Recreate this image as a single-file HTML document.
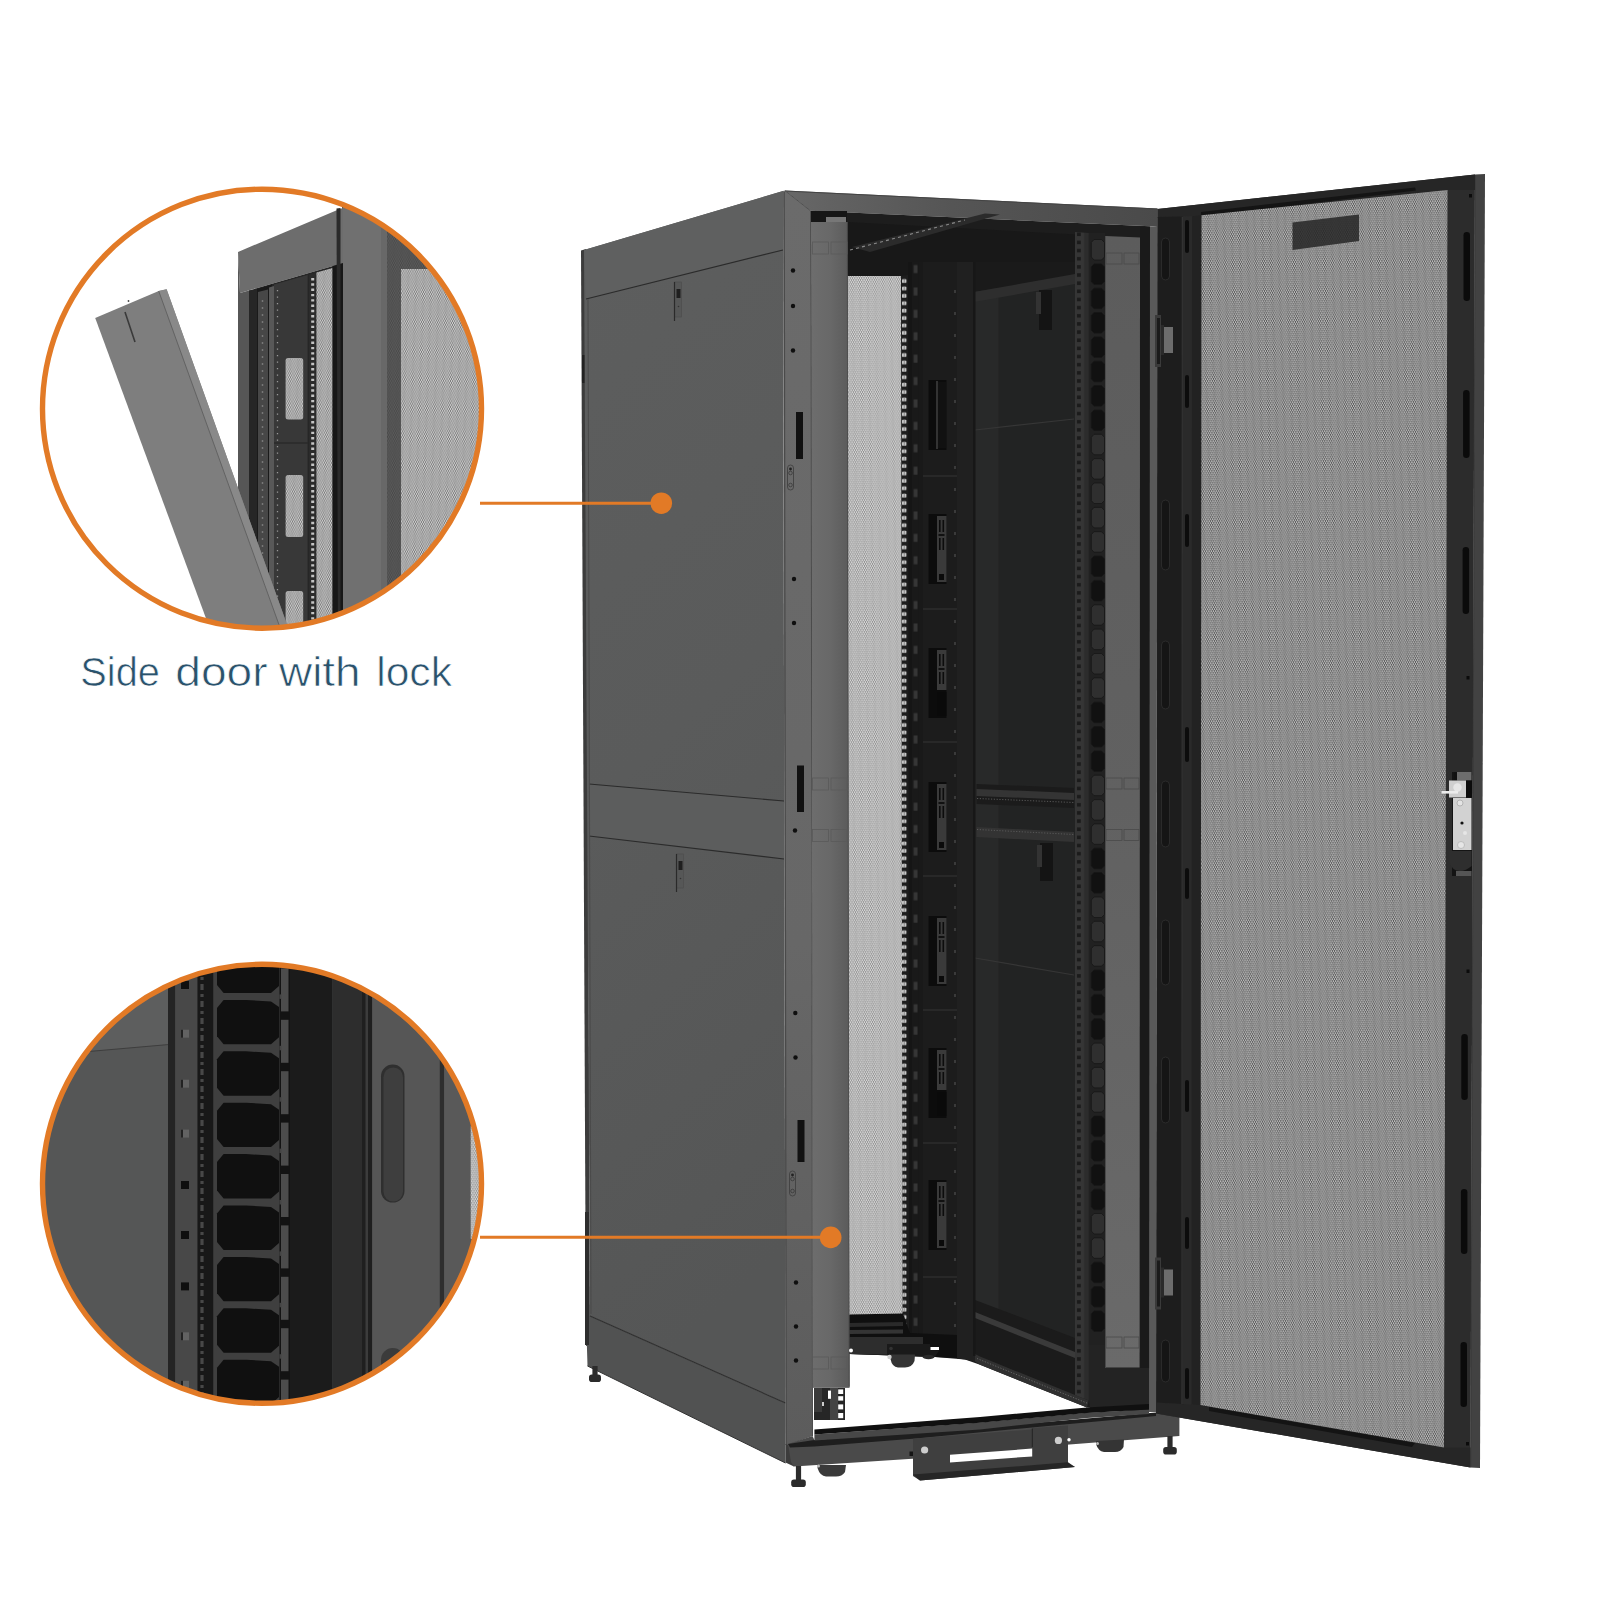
<!DOCTYPE html>
<html><head><meta charset="utf-8"><title>Rack</title>
<style>
html,body{margin:0;padding:0;background:#fff;}
body{width:1600px;height:1600px;overflow:hidden;font-family:"Liberation Sans",sans-serif;}
svg{display:block;}
</style></head><body>
<svg width="1600" height="1600" viewBox="0 0 1600 1600">
<rect width="1600" height="1600" fill="#fff"/>
<defs>
<pattern id="mDoor" width="23.00" height="20.00" patternUnits="userSpaceOnUse" patternTransform="rotate(-2)"><rect width="23.00" height="20.00" fill="#424242"/><g fill="#e8e8e8"><circle cx="0.00" cy="1.00" r="0.87"/><circle cx="2.30" cy="1.00" r="0.87"/><circle cx="4.60" cy="1.00" r="0.87"/><circle cx="6.90" cy="1.00" r="0.87"/><circle cx="9.20" cy="1.00" r="0.87"/><circle cx="11.50" cy="1.00" r="0.87"/><circle cx="13.80" cy="1.00" r="0.87"/><circle cx="16.10" cy="1.00" r="0.87"/><circle cx="18.40" cy="1.00" r="0.87"/><circle cx="20.70" cy="1.00" r="0.87"/><circle cx="23.00" cy="1.00" r="0.87"/><circle cx="1.15" cy="3.00" r="0.87"/><circle cx="3.45" cy="3.00" r="0.87"/><circle cx="5.75" cy="3.00" r="0.87"/><circle cx="8.05" cy="3.00" r="0.87"/><circle cx="10.35" cy="3.00" r="0.87"/><circle cx="12.65" cy="3.00" r="0.87"/><circle cx="14.95" cy="3.00" r="0.87"/><circle cx="17.25" cy="3.00" r="0.87"/><circle cx="19.55" cy="3.00" r="0.87"/><circle cx="21.85" cy="3.00" r="0.87"/><circle cx="0.00" cy="5.00" r="0.87"/><circle cx="2.30" cy="5.00" r="0.87"/><circle cx="4.60" cy="5.00" r="0.87"/><circle cx="6.90" cy="5.00" r="0.87"/><circle cx="9.20" cy="5.00" r="0.87"/><circle cx="11.50" cy="5.00" r="0.87"/><circle cx="13.80" cy="5.00" r="0.87"/><circle cx="16.10" cy="5.00" r="0.87"/><circle cx="18.40" cy="5.00" r="0.87"/><circle cx="20.70" cy="5.00" r="0.87"/><circle cx="23.00" cy="5.00" r="0.87"/><circle cx="1.15" cy="7.00" r="0.87"/><circle cx="3.45" cy="7.00" r="0.87"/><circle cx="5.75" cy="7.00" r="0.87"/><circle cx="8.05" cy="7.00" r="0.87"/><circle cx="10.35" cy="7.00" r="0.87"/><circle cx="12.65" cy="7.00" r="0.87"/><circle cx="14.95" cy="7.00" r="0.87"/><circle cx="17.25" cy="7.00" r="0.87"/><circle cx="19.55" cy="7.00" r="0.87"/><circle cx="21.85" cy="7.00" r="0.87"/><circle cx="0.00" cy="9.00" r="0.87"/><circle cx="2.30" cy="9.00" r="0.87"/><circle cx="4.60" cy="9.00" r="0.87"/><circle cx="6.90" cy="9.00" r="0.87"/><circle cx="9.20" cy="9.00" r="0.87"/><circle cx="11.50" cy="9.00" r="0.87"/><circle cx="13.80" cy="9.00" r="0.87"/><circle cx="16.10" cy="9.00" r="0.87"/><circle cx="18.40" cy="9.00" r="0.87"/><circle cx="20.70" cy="9.00" r="0.87"/><circle cx="23.00" cy="9.00" r="0.87"/><circle cx="1.15" cy="11.00" r="0.87"/><circle cx="3.45" cy="11.00" r="0.87"/><circle cx="5.75" cy="11.00" r="0.87"/><circle cx="8.05" cy="11.00" r="0.87"/><circle cx="10.35" cy="11.00" r="0.87"/><circle cx="12.65" cy="11.00" r="0.87"/><circle cx="14.95" cy="11.00" r="0.87"/><circle cx="17.25" cy="11.00" r="0.87"/><circle cx="19.55" cy="11.00" r="0.87"/><circle cx="21.85" cy="11.00" r="0.87"/><circle cx="0.00" cy="13.00" r="0.87"/><circle cx="2.30" cy="13.00" r="0.87"/><circle cx="4.60" cy="13.00" r="0.87"/><circle cx="6.90" cy="13.00" r="0.87"/><circle cx="9.20" cy="13.00" r="0.87"/><circle cx="11.50" cy="13.00" r="0.87"/><circle cx="13.80" cy="13.00" r="0.87"/><circle cx="16.10" cy="13.00" r="0.87"/><circle cx="18.40" cy="13.00" r="0.87"/><circle cx="20.70" cy="13.00" r="0.87"/><circle cx="23.00" cy="13.00" r="0.87"/><circle cx="1.15" cy="15.00" r="0.87"/><circle cx="3.45" cy="15.00" r="0.87"/><circle cx="5.75" cy="15.00" r="0.87"/><circle cx="8.05" cy="15.00" r="0.87"/><circle cx="10.35" cy="15.00" r="0.87"/><circle cx="12.65" cy="15.00" r="0.87"/><circle cx="14.95" cy="15.00" r="0.87"/><circle cx="17.25" cy="15.00" r="0.87"/><circle cx="19.55" cy="15.00" r="0.87"/><circle cx="21.85" cy="15.00" r="0.87"/><circle cx="0.00" cy="17.00" r="0.87"/><circle cx="2.30" cy="17.00" r="0.87"/><circle cx="4.60" cy="17.00" r="0.87"/><circle cx="6.90" cy="17.00" r="0.87"/><circle cx="9.20" cy="17.00" r="0.87"/><circle cx="11.50" cy="17.00" r="0.87"/><circle cx="13.80" cy="17.00" r="0.87"/><circle cx="16.10" cy="17.00" r="0.87"/><circle cx="18.40" cy="17.00" r="0.87"/><circle cx="20.70" cy="17.00" r="0.87"/><circle cx="23.00" cy="17.00" r="0.87"/><circle cx="1.15" cy="19.00" r="0.87"/><circle cx="3.45" cy="19.00" r="0.87"/><circle cx="5.75" cy="19.00" r="0.87"/><circle cx="8.05" cy="19.00" r="0.87"/><circle cx="10.35" cy="19.00" r="0.87"/><circle cx="12.65" cy="19.00" r="0.87"/><circle cx="14.95" cy="19.00" r="0.87"/><circle cx="17.25" cy="19.00" r="0.87"/><circle cx="19.55" cy="19.00" r="0.87"/><circle cx="21.85" cy="19.00" r="0.87"/></g></pattern>
<pattern id="mLeft" width="23.00" height="20.00" patternUnits="userSpaceOnUse" patternTransform="rotate(-1)"><rect width="23.00" height="20.00" fill="#848484"/><g fill="#f4f4f4"><circle cx="0.00" cy="1.00" r="0.86"/><circle cx="2.30" cy="1.00" r="0.86"/><circle cx="4.60" cy="1.00" r="0.86"/><circle cx="6.90" cy="1.00" r="0.86"/><circle cx="9.20" cy="1.00" r="0.86"/><circle cx="11.50" cy="1.00" r="0.86"/><circle cx="13.80" cy="1.00" r="0.86"/><circle cx="16.10" cy="1.00" r="0.86"/><circle cx="18.40" cy="1.00" r="0.86"/><circle cx="20.70" cy="1.00" r="0.86"/><circle cx="23.00" cy="1.00" r="0.86"/><circle cx="1.15" cy="3.00" r="0.86"/><circle cx="3.45" cy="3.00" r="0.86"/><circle cx="5.75" cy="3.00" r="0.86"/><circle cx="8.05" cy="3.00" r="0.86"/><circle cx="10.35" cy="3.00" r="0.86"/><circle cx="12.65" cy="3.00" r="0.86"/><circle cx="14.95" cy="3.00" r="0.86"/><circle cx="17.25" cy="3.00" r="0.86"/><circle cx="19.55" cy="3.00" r="0.86"/><circle cx="21.85" cy="3.00" r="0.86"/><circle cx="0.00" cy="5.00" r="0.86"/><circle cx="2.30" cy="5.00" r="0.86"/><circle cx="4.60" cy="5.00" r="0.86"/><circle cx="6.90" cy="5.00" r="0.86"/><circle cx="9.20" cy="5.00" r="0.86"/><circle cx="11.50" cy="5.00" r="0.86"/><circle cx="13.80" cy="5.00" r="0.86"/><circle cx="16.10" cy="5.00" r="0.86"/><circle cx="18.40" cy="5.00" r="0.86"/><circle cx="20.70" cy="5.00" r="0.86"/><circle cx="23.00" cy="5.00" r="0.86"/><circle cx="1.15" cy="7.00" r="0.86"/><circle cx="3.45" cy="7.00" r="0.86"/><circle cx="5.75" cy="7.00" r="0.86"/><circle cx="8.05" cy="7.00" r="0.86"/><circle cx="10.35" cy="7.00" r="0.86"/><circle cx="12.65" cy="7.00" r="0.86"/><circle cx="14.95" cy="7.00" r="0.86"/><circle cx="17.25" cy="7.00" r="0.86"/><circle cx="19.55" cy="7.00" r="0.86"/><circle cx="21.85" cy="7.00" r="0.86"/><circle cx="0.00" cy="9.00" r="0.86"/><circle cx="2.30" cy="9.00" r="0.86"/><circle cx="4.60" cy="9.00" r="0.86"/><circle cx="6.90" cy="9.00" r="0.86"/><circle cx="9.20" cy="9.00" r="0.86"/><circle cx="11.50" cy="9.00" r="0.86"/><circle cx="13.80" cy="9.00" r="0.86"/><circle cx="16.10" cy="9.00" r="0.86"/><circle cx="18.40" cy="9.00" r="0.86"/><circle cx="20.70" cy="9.00" r="0.86"/><circle cx="23.00" cy="9.00" r="0.86"/><circle cx="1.15" cy="11.00" r="0.86"/><circle cx="3.45" cy="11.00" r="0.86"/><circle cx="5.75" cy="11.00" r="0.86"/><circle cx="8.05" cy="11.00" r="0.86"/><circle cx="10.35" cy="11.00" r="0.86"/><circle cx="12.65" cy="11.00" r="0.86"/><circle cx="14.95" cy="11.00" r="0.86"/><circle cx="17.25" cy="11.00" r="0.86"/><circle cx="19.55" cy="11.00" r="0.86"/><circle cx="21.85" cy="11.00" r="0.86"/><circle cx="0.00" cy="13.00" r="0.86"/><circle cx="2.30" cy="13.00" r="0.86"/><circle cx="4.60" cy="13.00" r="0.86"/><circle cx="6.90" cy="13.00" r="0.86"/><circle cx="9.20" cy="13.00" r="0.86"/><circle cx="11.50" cy="13.00" r="0.86"/><circle cx="13.80" cy="13.00" r="0.86"/><circle cx="16.10" cy="13.00" r="0.86"/><circle cx="18.40" cy="13.00" r="0.86"/><circle cx="20.70" cy="13.00" r="0.86"/><circle cx="23.00" cy="13.00" r="0.86"/><circle cx="1.15" cy="15.00" r="0.86"/><circle cx="3.45" cy="15.00" r="0.86"/><circle cx="5.75" cy="15.00" r="0.86"/><circle cx="8.05" cy="15.00" r="0.86"/><circle cx="10.35" cy="15.00" r="0.86"/><circle cx="12.65" cy="15.00" r="0.86"/><circle cx="14.95" cy="15.00" r="0.86"/><circle cx="17.25" cy="15.00" r="0.86"/><circle cx="19.55" cy="15.00" r="0.86"/><circle cx="21.85" cy="15.00" r="0.86"/><circle cx="0.00" cy="17.00" r="0.86"/><circle cx="2.30" cy="17.00" r="0.86"/><circle cx="4.60" cy="17.00" r="0.86"/><circle cx="6.90" cy="17.00" r="0.86"/><circle cx="9.20" cy="17.00" r="0.86"/><circle cx="11.50" cy="17.00" r="0.86"/><circle cx="13.80" cy="17.00" r="0.86"/><circle cx="16.10" cy="17.00" r="0.86"/><circle cx="18.40" cy="17.00" r="0.86"/><circle cx="20.70" cy="17.00" r="0.86"/><circle cx="23.00" cy="17.00" r="0.86"/><circle cx="1.15" cy="19.00" r="0.86"/><circle cx="3.45" cy="19.00" r="0.86"/><circle cx="5.75" cy="19.00" r="0.86"/><circle cx="8.05" cy="19.00" r="0.86"/><circle cx="10.35" cy="19.00" r="0.86"/><circle cx="12.65" cy="19.00" r="0.86"/><circle cx="14.95" cy="19.00" r="0.86"/><circle cx="17.25" cy="19.00" r="0.86"/><circle cx="19.55" cy="19.00" r="0.86"/><circle cx="21.85" cy="19.00" r="0.86"/></g></pattern>
<pattern id="mC1" width="23.00" height="20.00" patternUnits="userSpaceOnUse" patternTransform="rotate(2)"><rect width="23.00" height="20.00" fill="#666666"/><g fill="#d8d8d8"><circle cx="0.00" cy="1.00" r="0.88"/><circle cx="2.30" cy="1.00" r="0.88"/><circle cx="4.60" cy="1.00" r="0.88"/><circle cx="6.90" cy="1.00" r="0.88"/><circle cx="9.20" cy="1.00" r="0.88"/><circle cx="11.50" cy="1.00" r="0.88"/><circle cx="13.80" cy="1.00" r="0.88"/><circle cx="16.10" cy="1.00" r="0.88"/><circle cx="18.40" cy="1.00" r="0.88"/><circle cx="20.70" cy="1.00" r="0.88"/><circle cx="23.00" cy="1.00" r="0.88"/><circle cx="1.15" cy="3.00" r="0.88"/><circle cx="3.45" cy="3.00" r="0.88"/><circle cx="5.75" cy="3.00" r="0.88"/><circle cx="8.05" cy="3.00" r="0.88"/><circle cx="10.35" cy="3.00" r="0.88"/><circle cx="12.65" cy="3.00" r="0.88"/><circle cx="14.95" cy="3.00" r="0.88"/><circle cx="17.25" cy="3.00" r="0.88"/><circle cx="19.55" cy="3.00" r="0.88"/><circle cx="21.85" cy="3.00" r="0.88"/><circle cx="0.00" cy="5.00" r="0.88"/><circle cx="2.30" cy="5.00" r="0.88"/><circle cx="4.60" cy="5.00" r="0.88"/><circle cx="6.90" cy="5.00" r="0.88"/><circle cx="9.20" cy="5.00" r="0.88"/><circle cx="11.50" cy="5.00" r="0.88"/><circle cx="13.80" cy="5.00" r="0.88"/><circle cx="16.10" cy="5.00" r="0.88"/><circle cx="18.40" cy="5.00" r="0.88"/><circle cx="20.70" cy="5.00" r="0.88"/><circle cx="23.00" cy="5.00" r="0.88"/><circle cx="1.15" cy="7.00" r="0.88"/><circle cx="3.45" cy="7.00" r="0.88"/><circle cx="5.75" cy="7.00" r="0.88"/><circle cx="8.05" cy="7.00" r="0.88"/><circle cx="10.35" cy="7.00" r="0.88"/><circle cx="12.65" cy="7.00" r="0.88"/><circle cx="14.95" cy="7.00" r="0.88"/><circle cx="17.25" cy="7.00" r="0.88"/><circle cx="19.55" cy="7.00" r="0.88"/><circle cx="21.85" cy="7.00" r="0.88"/><circle cx="0.00" cy="9.00" r="0.88"/><circle cx="2.30" cy="9.00" r="0.88"/><circle cx="4.60" cy="9.00" r="0.88"/><circle cx="6.90" cy="9.00" r="0.88"/><circle cx="9.20" cy="9.00" r="0.88"/><circle cx="11.50" cy="9.00" r="0.88"/><circle cx="13.80" cy="9.00" r="0.88"/><circle cx="16.10" cy="9.00" r="0.88"/><circle cx="18.40" cy="9.00" r="0.88"/><circle cx="20.70" cy="9.00" r="0.88"/><circle cx="23.00" cy="9.00" r="0.88"/><circle cx="1.15" cy="11.00" r="0.88"/><circle cx="3.45" cy="11.00" r="0.88"/><circle cx="5.75" cy="11.00" r="0.88"/><circle cx="8.05" cy="11.00" r="0.88"/><circle cx="10.35" cy="11.00" r="0.88"/><circle cx="12.65" cy="11.00" r="0.88"/><circle cx="14.95" cy="11.00" r="0.88"/><circle cx="17.25" cy="11.00" r="0.88"/><circle cx="19.55" cy="11.00" r="0.88"/><circle cx="21.85" cy="11.00" r="0.88"/><circle cx="0.00" cy="13.00" r="0.88"/><circle cx="2.30" cy="13.00" r="0.88"/><circle cx="4.60" cy="13.00" r="0.88"/><circle cx="6.90" cy="13.00" r="0.88"/><circle cx="9.20" cy="13.00" r="0.88"/><circle cx="11.50" cy="13.00" r="0.88"/><circle cx="13.80" cy="13.00" r="0.88"/><circle cx="16.10" cy="13.00" r="0.88"/><circle cx="18.40" cy="13.00" r="0.88"/><circle cx="20.70" cy="13.00" r="0.88"/><circle cx="23.00" cy="13.00" r="0.88"/><circle cx="1.15" cy="15.00" r="0.88"/><circle cx="3.45" cy="15.00" r="0.88"/><circle cx="5.75" cy="15.00" r="0.88"/><circle cx="8.05" cy="15.00" r="0.88"/><circle cx="10.35" cy="15.00" r="0.88"/><circle cx="12.65" cy="15.00" r="0.88"/><circle cx="14.95" cy="15.00" r="0.88"/><circle cx="17.25" cy="15.00" r="0.88"/><circle cx="19.55" cy="15.00" r="0.88"/><circle cx="21.85" cy="15.00" r="0.88"/><circle cx="0.00" cy="17.00" r="0.88"/><circle cx="2.30" cy="17.00" r="0.88"/><circle cx="4.60" cy="17.00" r="0.88"/><circle cx="6.90" cy="17.00" r="0.88"/><circle cx="9.20" cy="17.00" r="0.88"/><circle cx="11.50" cy="17.00" r="0.88"/><circle cx="13.80" cy="17.00" r="0.88"/><circle cx="16.10" cy="17.00" r="0.88"/><circle cx="18.40" cy="17.00" r="0.88"/><circle cx="20.70" cy="17.00" r="0.88"/><circle cx="23.00" cy="17.00" r="0.88"/><circle cx="1.15" cy="19.00" r="0.88"/><circle cx="3.45" cy="19.00" r="0.88"/><circle cx="5.75" cy="19.00" r="0.88"/><circle cx="8.05" cy="19.00" r="0.88"/><circle cx="10.35" cy="19.00" r="0.88"/><circle cx="12.65" cy="19.00" r="0.88"/><circle cx="14.95" cy="19.00" r="0.88"/><circle cx="17.25" cy="19.00" r="0.88"/><circle cx="19.55" cy="19.00" r="0.88"/><circle cx="21.85" cy="19.00" r="0.88"/></g></pattern>
<pattern id="mC1d" width="23.00" height="20.00" patternUnits="userSpaceOnUse" patternTransform="rotate(2)"><rect width="23.00" height="20.00" fill="#454545"/><g fill="#5c5c5c"><circle cx="0.00" cy="1.00" r="0.9"/><circle cx="2.30" cy="1.00" r="0.9"/><circle cx="4.60" cy="1.00" r="0.9"/><circle cx="6.90" cy="1.00" r="0.9"/><circle cx="9.20" cy="1.00" r="0.9"/><circle cx="11.50" cy="1.00" r="0.9"/><circle cx="13.80" cy="1.00" r="0.9"/><circle cx="16.10" cy="1.00" r="0.9"/><circle cx="18.40" cy="1.00" r="0.9"/><circle cx="20.70" cy="1.00" r="0.9"/><circle cx="23.00" cy="1.00" r="0.9"/><circle cx="1.15" cy="3.00" r="0.9"/><circle cx="3.45" cy="3.00" r="0.9"/><circle cx="5.75" cy="3.00" r="0.9"/><circle cx="8.05" cy="3.00" r="0.9"/><circle cx="10.35" cy="3.00" r="0.9"/><circle cx="12.65" cy="3.00" r="0.9"/><circle cx="14.95" cy="3.00" r="0.9"/><circle cx="17.25" cy="3.00" r="0.9"/><circle cx="19.55" cy="3.00" r="0.9"/><circle cx="21.85" cy="3.00" r="0.9"/><circle cx="0.00" cy="5.00" r="0.9"/><circle cx="2.30" cy="5.00" r="0.9"/><circle cx="4.60" cy="5.00" r="0.9"/><circle cx="6.90" cy="5.00" r="0.9"/><circle cx="9.20" cy="5.00" r="0.9"/><circle cx="11.50" cy="5.00" r="0.9"/><circle cx="13.80" cy="5.00" r="0.9"/><circle cx="16.10" cy="5.00" r="0.9"/><circle cx="18.40" cy="5.00" r="0.9"/><circle cx="20.70" cy="5.00" r="0.9"/><circle cx="23.00" cy="5.00" r="0.9"/><circle cx="1.15" cy="7.00" r="0.9"/><circle cx="3.45" cy="7.00" r="0.9"/><circle cx="5.75" cy="7.00" r="0.9"/><circle cx="8.05" cy="7.00" r="0.9"/><circle cx="10.35" cy="7.00" r="0.9"/><circle cx="12.65" cy="7.00" r="0.9"/><circle cx="14.95" cy="7.00" r="0.9"/><circle cx="17.25" cy="7.00" r="0.9"/><circle cx="19.55" cy="7.00" r="0.9"/><circle cx="21.85" cy="7.00" r="0.9"/><circle cx="0.00" cy="9.00" r="0.9"/><circle cx="2.30" cy="9.00" r="0.9"/><circle cx="4.60" cy="9.00" r="0.9"/><circle cx="6.90" cy="9.00" r="0.9"/><circle cx="9.20" cy="9.00" r="0.9"/><circle cx="11.50" cy="9.00" r="0.9"/><circle cx="13.80" cy="9.00" r="0.9"/><circle cx="16.10" cy="9.00" r="0.9"/><circle cx="18.40" cy="9.00" r="0.9"/><circle cx="20.70" cy="9.00" r="0.9"/><circle cx="23.00" cy="9.00" r="0.9"/><circle cx="1.15" cy="11.00" r="0.9"/><circle cx="3.45" cy="11.00" r="0.9"/><circle cx="5.75" cy="11.00" r="0.9"/><circle cx="8.05" cy="11.00" r="0.9"/><circle cx="10.35" cy="11.00" r="0.9"/><circle cx="12.65" cy="11.00" r="0.9"/><circle cx="14.95" cy="11.00" r="0.9"/><circle cx="17.25" cy="11.00" r="0.9"/><circle cx="19.55" cy="11.00" r="0.9"/><circle cx="21.85" cy="11.00" r="0.9"/><circle cx="0.00" cy="13.00" r="0.9"/><circle cx="2.30" cy="13.00" r="0.9"/><circle cx="4.60" cy="13.00" r="0.9"/><circle cx="6.90" cy="13.00" r="0.9"/><circle cx="9.20" cy="13.00" r="0.9"/><circle cx="11.50" cy="13.00" r="0.9"/><circle cx="13.80" cy="13.00" r="0.9"/><circle cx="16.10" cy="13.00" r="0.9"/><circle cx="18.40" cy="13.00" r="0.9"/><circle cx="20.70" cy="13.00" r="0.9"/><circle cx="23.00" cy="13.00" r="0.9"/><circle cx="1.15" cy="15.00" r="0.9"/><circle cx="3.45" cy="15.00" r="0.9"/><circle cx="5.75" cy="15.00" r="0.9"/><circle cx="8.05" cy="15.00" r="0.9"/><circle cx="10.35" cy="15.00" r="0.9"/><circle cx="12.65" cy="15.00" r="0.9"/><circle cx="14.95" cy="15.00" r="0.9"/><circle cx="17.25" cy="15.00" r="0.9"/><circle cx="19.55" cy="15.00" r="0.9"/><circle cx="21.85" cy="15.00" r="0.9"/><circle cx="0.00" cy="17.00" r="0.9"/><circle cx="2.30" cy="17.00" r="0.9"/><circle cx="4.60" cy="17.00" r="0.9"/><circle cx="6.90" cy="17.00" r="0.9"/><circle cx="9.20" cy="17.00" r="0.9"/><circle cx="11.50" cy="17.00" r="0.9"/><circle cx="13.80" cy="17.00" r="0.9"/><circle cx="16.10" cy="17.00" r="0.9"/><circle cx="18.40" cy="17.00" r="0.9"/><circle cx="20.70" cy="17.00" r="0.9"/><circle cx="23.00" cy="17.00" r="0.9"/><circle cx="1.15" cy="19.00" r="0.9"/><circle cx="3.45" cy="19.00" r="0.9"/><circle cx="5.75" cy="19.00" r="0.9"/><circle cx="8.05" cy="19.00" r="0.9"/><circle cx="10.35" cy="19.00" r="0.9"/><circle cx="12.65" cy="19.00" r="0.9"/><circle cx="14.95" cy="19.00" r="0.9"/><circle cx="17.25" cy="19.00" r="0.9"/><circle cx="19.55" cy="19.00" r="0.9"/><circle cx="21.85" cy="19.00" r="0.9"/></g></pattern>
<pattern id="railL" width="7" height="7.4" patternUnits="userSpaceOnUse" x="901" y="278.5">
 <rect width="7" height="7.4" fill="#1d1d1d"/>
 <rect x="1" y="0.6" width="4.4" height="3.8" rx="0.8" fill="#c8c8c8"/>
 <rect x="2.8" y="0.6" width="0.8" height="3.8" fill="#7a7a7a"/>
</pattern>
<pattern id="railR" width="13.75" height="8.15" patternUnits="userSpaceOnUse" x="1075" y="231.5">
 <rect width="13.75" height="8.15" fill="#353535"/>
 <rect x="2" y="1" width="3.8" height="3.6" fill="#1b1b1b"/>
 <rect x="9" y="0" width="4.75" height="8.15" fill="#2c2c2c"/>
</pattern>
<pattern id="dash" width="6" height="22.4" patternUnits="userSpaceOnUse" x="912.5" y="287">
 <rect width="6" height="22.4" fill="#191919"/>
 <rect x="1.2" y="0.5" width="3.8" height="8" fill="#363636"/>
</pattern>
<pattern id="fingR" width="16.5" height="24.4" patternUnits="userSpaceOnUse" x="1088.6" y="246">
 <rect width="16.5" height="24.4" fill="#262626"/>
 <path d="M5,2 L12,2 L14.5,5 L14.5,19.5 L12,22.5 L5,22.5 L2.5,19.5 L2.5,5 Z" fill="#141414"/>
 <path d="M2.5,5 Q0.8,12 2.5,19.5" stroke="#4a4a4a" stroke-width="0.7" fill="none"/>
</pattern>
<linearGradient id="sideG" x1="0" y1="0" x2="0.15" y2="1">
 <stop offset="0" stop-color="#5d5e5e"/><stop offset="0.5" stop-color="#5a5b5b"/><stop offset="1" stop-color="#555656"/>
</linearGradient>
<linearGradient id="postG" x1="0" y1="0" x2="0" y2="1">
 <stop offset="0" stop-color="#6b6b6b"/><stop offset="0.6" stop-color="#676767"/><stop offset="1" stop-color="#5c5c5c"/>
</linearGradient>
<linearGradient id="barRG" x1="0" y1="0" x2="0" y2="1">
 <stop offset="0" stop-color="#5c5c5c"/><stop offset="0.5" stop-color="#616161"/><stop offset="1" stop-color="#6a6a6a"/>
</linearGradient>
<linearGradient id="beamG" gradientUnits="userSpaceOnUse" x1="785" y1="0" x2="1157" y2="0">
 <stop offset="0" stop-color="#686868"/><stop offset="0.12" stop-color="#626262"/><stop offset="0.45" stop-color="#555555"/><stop offset="1" stop-color="#4a4a4a"/>
</linearGradient>
<linearGradient id="barLG" gradientUnits="userSpaceOnUse" x1="812" y1="0" x2="849" y2="0">
 <stop offset="0" stop-color="#6d6d6d"/><stop offset="0.5" stop-color="#686868"/><stop offset="1" stop-color="#5b5b5b"/>
</linearGradient>
<clipPath id="c1"><circle cx="262" cy="408.7" r="219.5"/></clipPath>
<clipPath id="c2"><circle cx="262" cy="1183.8" r="219.5"/></clipPath>
</defs>
<polygon points="581.0,250.5 586.0,249.0 590.0,1345.0 586.0,1346.0" fill="#3c3c3c" />
<polygon points="584.0,250.0 783.0,191.0 785.5,1403.0 590.0,1316.0" fill="url(#sideG)" />
<polygon points="584.0,250.0 783.0,191.0 783.0,250.0 586.0,299.0" fill="#5f6060" />
<polygon points="589.0,784.0 784.0,801.0 784.0,859.0 589.0,836.0" fill="#5c5d5d" />
<polygon points="586.0,1318.0 590.0,1316.0 785.5,1403.0 785.5,1463.0 587.5,1366.0" fill="#515252" />
<line x1="586.0" y1="299.0" x2="783.0" y2="250.0" stroke="#2b2b2b" stroke-width="1.20" />
<line x1="589.0" y1="784.0" x2="784.0" y2="801.0" stroke="#2b2b2b" stroke-width="1.20" />
<line x1="589.0" y1="836.0" x2="784.0" y2="859.0" stroke="#2b2b2b" stroke-width="1.20" />
<line x1="590.0" y1="1316.0" x2="785.5" y2="1403.0" stroke="#2e2e2e" stroke-width="1.20" />
<line x1="587.5" y1="1366.0" x2="785.5" y2="1463.0" stroke="#333" stroke-width="1.00" />
<line x1="588.0" y1="299.0" x2="591.0" y2="1314.0" stroke="#4a4a4a" stroke-width="1.00" />
<rect x="674.5" y="282.0" width="7.0" height="35.0" fill="#565757" stroke="#4b4b4b" stroke-width="0.6"/>
<rect x="676.5" y="289.0" width="4.0" height="9.0" fill="#1f1f1f" />
<line x1="674.5" y1="282.0" x2="674.5" y2="321.0" stroke="#2a2a2a" stroke-width="1.20" />
<circle cx="678.5" cy="306.5" r="0.80" fill="#333" />
<rect x="676.5" y="854.0" width="7.0" height="34.0" fill="#565757" stroke="#4b4b4b" stroke-width="0.6"/>
<rect x="678.5" y="861.0" width="4.0" height="9.0" fill="#1f1f1f" />
<line x1="676.5" y1="854.0" x2="676.5" y2="892.0" stroke="#2a2a2a" stroke-width="1.20" />
<circle cx="680.5" cy="878.5" r="0.80" fill="#333" />
<rect x="582.0" y="355.0" width="2.5" height="28.0" fill="#222" />
<rect x="585.0" y="1212.0" width="4.0" height="133.0" fill="#2d2d2d" />
<polygon points="783.0,191.0 785.0,190.5 811.0,211.0 812.5,1436.0 788.0,1445.0 785.5,1445.0" fill="url(#postG)" />
<line x1="784.2" y1="192.0" x2="786.3" y2="1445.0" stroke="#4a4a4a" stroke-width="1.20" />
<line x1="811.0" y1="211.0" x2="812.5" y2="1436.0" stroke="#4c4c4c" stroke-width="1.00" />
<circle cx="793.0" cy="270.5" r="2.20" fill="#0f0f0f" />
<circle cx="793.0" cy="306.0" r="2.20" fill="#0f0f0f" />
<circle cx="793.0" cy="350.5" r="2.20" fill="#0f0f0f" />
<circle cx="794.0" cy="579.0" r="2.20" fill="#0f0f0f" />
<circle cx="794.0" cy="623.0" r="2.20" fill="#0f0f0f" />
<circle cx="795.0" cy="830.5" r="2.20" fill="#0f0f0f" />
<circle cx="795.3" cy="1013.0" r="2.20" fill="#0f0f0f" />
<circle cx="795.5" cy="1057.5" r="2.20" fill="#0f0f0f" />
<circle cx="796.0" cy="1282.5" r="2.20" fill="#0f0f0f" />
<circle cx="796.0" cy="1326.5" r="2.20" fill="#0f0f0f" />
<circle cx="796.0" cy="1360.5" r="2.20" fill="#0f0f0f" />
<rect x="796.0" y="412.0" width="7.0" height="47.0" fill="#111" />
<rect x="797.0" y="765.5" width="7.0" height="46.5" fill="#111" />
<rect x="797.5" y="1120.0" width="7.0" height="42.0" fill="#111" />
<rect x="787.5" y="465.0" width="6" height="25" rx="3" fill="none" stroke="#3c3c3c" stroke-width="0.8"/>
<circle cx="790.5" cy="469.0" r="1.40" fill="#222" />
<circle cx="790.5" cy="473.0" r="1.80" fill="none" stroke="#333" stroke-width="0.7"/>
<circle cx="790.5" cy="485.0" r="1.80" fill="none" stroke="#333" stroke-width="0.7"/>
<rect x="789.5" y="1171.0" width="6" height="25" rx="3" fill="none" stroke="#3c3c3c" stroke-width="0.8"/>
<circle cx="792.5" cy="1175.0" r="1.40" fill="#222" />
<circle cx="792.5" cy="1179.0" r="1.80" fill="none" stroke="#333" stroke-width="0.7"/>
<circle cx="792.5" cy="1191.0" r="1.80" fill="none" stroke="#333" stroke-width="0.7"/>
<polygon points="785.0,190.5 1157.5,208.6 1157.5,227.0 1150.0,226.3 810.5,210.8" fill="url(#beamG)" />
<line x1="785.0" y1="191.0" x2="1157.5" y2="209.0" stroke="#444" stroke-width="1.00" />
<line x1="785.5" y1="191.0" x2="810.5" y2="210.8" stroke="#505050" stroke-width="1.00" />
<polygon points="810.8,210.8 1150.0,226.3 1150.0,1412.0 1087.0,1407.4 980.0,1364.8 965.0,1359.5 935.0,1357.0 849.5,1354.0 849.5,1387.5 813.0,1387.5" fill="#1d1d1d" />
<polygon points="847.0,222.0 1105.0,236.0 1105.0,262.0 974.0,262.0 902.0,276.0 847.0,276.0" fill="#181818" />
<polygon points="852.0,247.0 985.0,213.5 1000.0,214.5 870.0,252.0" fill="#2b2b2b" />
<line x1="850.0" y1="250.0" x2="965.0" y2="220.0" stroke="#8a8a8a" stroke-width="1.10" stroke-dasharray="3 3.2"/>
<polygon points="974.0,262.0 1075.0,262.0 1075.0,1395.0 974.0,1352.0" fill="#222323" />
<polygon points="974.0,275.0 998.5,275.0 998.5,1362.0 974.0,1352.0" fill="#282929" />
<polygon points="974.0,262.0 1075.0,262.0 1075.0,276.0 974.0,292.0" fill="#1a1a1a" />
<polygon points="974.0,292.0 1075.0,274.0 1075.0,284.0 974.0,302.0" fill="#2e2e2e" />
<line x1="975.0" y1="430.0" x2="1074.0" y2="419.0" stroke="#363636" stroke-width="1.20" />
<line x1="975.0" y1="958.0" x2="1074.0" y2="975.0" stroke="#363636" stroke-width="1.20" />
<rect x="1039.0" y="290.0" width="13.0" height="40.0" fill="#141414" />
<rect x="1036.0" y="292.0" width="5.0" height="22.0" fill="#333" />
<rect x="1040.0" y="843.0" width="13.0" height="38.0" fill="#141414" />
<rect x="1037.0" y="845.0" width="5.0" height="22.0" fill="#333" />
<polygon points="976.5,784.0 1074.0,788.0 1074.0,808.0 976.5,804.0" fill="#1b1b1b" />
<polygon points="976.5,789.0 1074.0,793.0 1074.0,800.0 976.5,796.0" fill="#343434" />
<line x1="977.0" y1="798.5" x2="1074.0" y2="802.5" stroke="#5c5c5c" stroke-width="0.90" stroke-dasharray="1.2 1.6"/>
<polygon points="976.5,827.0 1074.0,832.0 1074.0,842.0 976.5,837.0" fill="#333" />
<line x1="977.0" y1="829.5" x2="1074.0" y2="834.5" stroke="#5c5c5c" stroke-width="0.90" stroke-dasharray="1.2 1.6"/>
<polygon points="975.0,1300.0 1075.0,1338.0 1075.0,1395.0 975.0,1355.0" fill="#1b1b1b" />
<polygon points="975.0,1312.0 1075.0,1352.0 1075.0,1358.0 975.0,1318.0" fill="#3a3a3a" />
<polygon points="975.0,1354.0 980.0,1356.5 1088.6,1400.5 1087.0,1407.4 980.0,1364.8 975.0,1361.5" fill="#303030" />
<line x1="977.0" y1="1358.5" x2="1088.0" y2="1403.5" stroke="#6a6a6a" stroke-width="0.90" stroke-dasharray="1.2 1.6"/>
<rect x="923.0" y="262.0" width="50.5" height="1090.0" fill="#1c1c1c" />
<line x1="923.0" y1="476.0" x2="973.0" y2="476.0" stroke="#343434" stroke-width="1.00" />
<line x1="923.0" y1="609.0" x2="973.0" y2="609.0" stroke="#343434" stroke-width="1.00" />
<line x1="923.0" y1="742.0" x2="973.0" y2="742.0" stroke="#343434" stroke-width="1.00" />
<line x1="923.0" y1="876.0" x2="973.0" y2="876.0" stroke="#343434" stroke-width="1.00" />
<line x1="923.0" y1="1010.0" x2="973.0" y2="1010.0" stroke="#343434" stroke-width="1.00" />
<line x1="923.0" y1="1143.0" x2="973.0" y2="1143.0" stroke="#343434" stroke-width="1.00" />
<line x1="923.0" y1="1277.0" x2="973.0" y2="1277.0" stroke="#343434" stroke-width="1.00" />
<rect x="928.5" y="380.0" width="18.0" height="70.0" fill="#0c0c0c" />
<rect x="937.0" y="382.0" width="9.0" height="66.0" fill="#111" />
<rect x="936.0" y="381.0" width="2.0" height="68.0" fill="#333" />
<rect x="928.5" y="514.0" width="18.0" height="70.0" fill="#0c0c0c" />
<rect x="937.0" y="516.0" width="9.5" height="66.0" fill="#3a3a3a" />
<rect x="939.0" y="574.0" width="5.0" height="6.0" fill="#0a0a0a" />
<rect x="939.0" y="520.0" width="1.6" height="12.0" fill="#0c0c0c" />
<rect x="942.5" y="520.0" width="1.6" height="12.0" fill="#0c0c0c" />
<rect x="939.0" y="538.0" width="1.6" height="12.0" fill="#0c0c0c" />
<rect x="942.5" y="538.0" width="1.6" height="12.0" fill="#0c0c0c" />
<rect x="938.5" y="534.0" width="6.0" height="2.0" fill="#111" />
<rect x="928.5" y="648.0" width="18.0" height="70.0" fill="#0c0c0c" />
<rect x="937.0" y="650.0" width="9.5" height="40.0" fill="#3a3a3a" />
<rect x="937.0" y="692.0" width="9.5" height="24.0" fill="#0a0a0a" />
<rect x="939.0" y="654.0" width="1.6" height="12.0" fill="#0c0c0c" />
<rect x="942.5" y="654.0" width="1.6" height="12.0" fill="#0c0c0c" />
<rect x="939.0" y="672.0" width="1.6" height="12.0" fill="#0c0c0c" />
<rect x="942.5" y="672.0" width="1.6" height="12.0" fill="#0c0c0c" />
<rect x="938.5" y="668.0" width="6.0" height="2.0" fill="#111" />
<rect x="928.5" y="782.0" width="18.0" height="70.0" fill="#0c0c0c" />
<rect x="937.0" y="784.0" width="9.5" height="66.0" fill="#3a3a3a" />
<rect x="939.0" y="842.0" width="5.0" height="6.0" fill="#0a0a0a" />
<rect x="939.0" y="788.0" width="1.6" height="12.0" fill="#0c0c0c" />
<rect x="942.5" y="788.0" width="1.6" height="12.0" fill="#0c0c0c" />
<rect x="939.0" y="806.0" width="1.6" height="12.0" fill="#0c0c0c" />
<rect x="942.5" y="806.0" width="1.6" height="12.0" fill="#0c0c0c" />
<rect x="938.5" y="802.0" width="6.0" height="2.0" fill="#111" />
<rect x="928.5" y="916.0" width="18.0" height="70.0" fill="#0c0c0c" />
<rect x="937.0" y="918.0" width="9.5" height="66.0" fill="#3a3a3a" />
<rect x="939.0" y="976.0" width="5.0" height="6.0" fill="#0a0a0a" />
<rect x="939.0" y="922.0" width="1.6" height="12.0" fill="#0c0c0c" />
<rect x="942.5" y="922.0" width="1.6" height="12.0" fill="#0c0c0c" />
<rect x="939.0" y="940.0" width="1.6" height="12.0" fill="#0c0c0c" />
<rect x="942.5" y="940.0" width="1.6" height="12.0" fill="#0c0c0c" />
<rect x="938.5" y="936.0" width="6.0" height="2.0" fill="#111" />
<rect x="928.5" y="1048.0" width="18.0" height="70.0" fill="#0c0c0c" />
<rect x="937.0" y="1050.0" width="9.5" height="40.0" fill="#3a3a3a" />
<rect x="937.0" y="1092.0" width="9.5" height="24.0" fill="#0a0a0a" />
<rect x="939.0" y="1054.0" width="1.6" height="12.0" fill="#0c0c0c" />
<rect x="942.5" y="1054.0" width="1.6" height="12.0" fill="#0c0c0c" />
<rect x="939.0" y="1072.0" width="1.6" height="12.0" fill="#0c0c0c" />
<rect x="942.5" y="1072.0" width="1.6" height="12.0" fill="#0c0c0c" />
<rect x="938.5" y="1068.0" width="6.0" height="2.0" fill="#111" />
<rect x="928.5" y="1180.0" width="18.0" height="70.0" fill="#0c0c0c" />
<rect x="937.0" y="1182.0" width="9.5" height="66.0" fill="#3a3a3a" />
<rect x="939.0" y="1240.0" width="5.0" height="6.0" fill="#0a0a0a" />
<rect x="939.0" y="1186.0" width="1.6" height="12.0" fill="#0c0c0c" />
<rect x="942.5" y="1186.0" width="1.6" height="12.0" fill="#0c0c0c" />
<rect x="939.0" y="1204.0" width="1.6" height="12.0" fill="#0c0c0c" />
<rect x="942.5" y="1204.0" width="1.6" height="12.0" fill="#0c0c0c" />
<rect x="938.5" y="1200.0" width="6.0" height="2.0" fill="#111" />
<rect x="954.0" y="290.0" width="2.0" height="3.0" fill="#3a3a3a" />
<rect x="954.0" y="312.0" width="2.0" height="3.0" fill="#3a3a3a" />
<rect x="954.0" y="334.0" width="2.0" height="3.0" fill="#3a3a3a" />
<rect x="954.0" y="356.0" width="2.0" height="3.0" fill="#3a3a3a" />
<rect x="954.0" y="378.0" width="2.0" height="3.0" fill="#3a3a3a" />
<rect x="954.0" y="400.0" width="2.0" height="3.0" fill="#3a3a3a" />
<rect x="954.0" y="422.0" width="2.0" height="3.0" fill="#3a3a3a" />
<rect x="954.0" y="444.0" width="2.0" height="3.0" fill="#3a3a3a" />
<rect x="954.0" y="466.0" width="2.0" height="3.0" fill="#3a3a3a" />
<rect x="954.0" y="488.0" width="2.0" height="3.0" fill="#3a3a3a" />
<rect x="954.0" y="510.0" width="2.0" height="3.0" fill="#3a3a3a" />
<rect x="954.0" y="532.0" width="2.0" height="3.0" fill="#3a3a3a" />
<rect x="954.0" y="554.0" width="2.0" height="3.0" fill="#3a3a3a" />
<rect x="954.0" y="576.0" width="2.0" height="3.0" fill="#3a3a3a" />
<rect x="954.0" y="598.0" width="2.0" height="3.0" fill="#3a3a3a" />
<rect x="954.0" y="620.0" width="2.0" height="3.0" fill="#3a3a3a" />
<rect x="954.0" y="642.0" width="2.0" height="3.0" fill="#3a3a3a" />
<rect x="954.0" y="664.0" width="2.0" height="3.0" fill="#3a3a3a" />
<rect x="954.0" y="686.0" width="2.0" height="3.0" fill="#3a3a3a" />
<rect x="954.0" y="708.0" width="2.0" height="3.0" fill="#3a3a3a" />
<rect x="954.0" y="730.0" width="2.0" height="3.0" fill="#3a3a3a" />
<rect x="954.0" y="752.0" width="2.0" height="3.0" fill="#3a3a3a" />
<rect x="954.0" y="774.0" width="2.0" height="3.0" fill="#3a3a3a" />
<rect x="954.0" y="796.0" width="2.0" height="3.0" fill="#3a3a3a" />
<rect x="954.0" y="818.0" width="2.0" height="3.0" fill="#3a3a3a" />
<rect x="954.0" y="840.0" width="2.0" height="3.0" fill="#3a3a3a" />
<rect x="954.0" y="862.0" width="2.0" height="3.0" fill="#3a3a3a" />
<rect x="954.0" y="884.0" width="2.0" height="3.0" fill="#3a3a3a" />
<rect x="954.0" y="906.0" width="2.0" height="3.0" fill="#3a3a3a" />
<rect x="954.0" y="928.0" width="2.0" height="3.0" fill="#3a3a3a" />
<rect x="954.0" y="950.0" width="2.0" height="3.0" fill="#3a3a3a" />
<rect x="954.0" y="972.0" width="2.0" height="3.0" fill="#3a3a3a" />
<rect x="954.0" y="994.0" width="2.0" height="3.0" fill="#3a3a3a" />
<rect x="954.0" y="1016.0" width="2.0" height="3.0" fill="#3a3a3a" />
<rect x="954.0" y="1038.0" width="2.0" height="3.0" fill="#3a3a3a" />
<rect x="954.0" y="1060.0" width="2.0" height="3.0" fill="#3a3a3a" />
<rect x="954.0" y="1082.0" width="2.0" height="3.0" fill="#3a3a3a" />
<rect x="954.0" y="1104.0" width="2.0" height="3.0" fill="#3a3a3a" />
<rect x="954.0" y="1126.0" width="2.0" height="3.0" fill="#3a3a3a" />
<rect x="954.0" y="1148.0" width="2.0" height="3.0" fill="#3a3a3a" />
<rect x="954.0" y="1170.0" width="2.0" height="3.0" fill="#3a3a3a" />
<rect x="954.0" y="1192.0" width="2.0" height="3.0" fill="#3a3a3a" />
<rect x="954.0" y="1214.0" width="2.0" height="3.0" fill="#3a3a3a" />
<rect x="954.0" y="1236.0" width="2.0" height="3.0" fill="#3a3a3a" />
<rect x="954.0" y="1258.0" width="2.0" height="3.0" fill="#3a3a3a" />
<rect x="954.0" y="1280.0" width="2.0" height="3.0" fill="#3a3a3a" />
<rect x="954.0" y="1302.0" width="2.0" height="3.0" fill="#3a3a3a" />
<rect x="954.0" y="1324.0" width="2.0" height="3.0" fill="#3a3a3a" />
<rect x="972.0" y="262.0" width="3.0" height="1092.0" fill="#161616" />
<rect x="908.0" y="262.0" width="15.0" height="1080.0" fill="url(#dash)" />
<rect x="908.0" y="262.0" width="4.0" height="1080.0" fill="#151515" />
<rect x="918.5" y="262.0" width="4.5" height="1090.0" fill="#191919" />
<polygon points="901.0,277.0 908.0,277.0 909.0,1332.0 902.5,1332.0" fill="url(#railL)" />
<polygon points="847.5,276.0 901.0,276.0 902.5,1315.0 849.0,1315.0" fill="url(#mLeft)" />
<polygon points="849.5,1314.5 903.0,1313.5 910.0,1333.0 957.0,1335.0 957.0,1358.0 935.0,1357.0 849.5,1354.0" fill="#0f0f0f" />
<polygon points="849.5,1323.0 903.0,1322.0 903.0,1326.0 849.5,1327.0" fill="#2a2a2a" />
<polygon points="849.5,1330.0 903.0,1329.5 903.0,1333.5 849.5,1334.0" fill="#343434" />
<polygon points="849.5,1337.0 923.0,1337.0 923.0,1344.0 887.0,1344.0 887.0,1354.8 849.5,1354.0" fill="#2d2d2d" />
<polygon points="957.0,262.0 975.0,262.0 975.0,1361.5 965.0,1359.5 957.0,1358.5" fill="#202020" />
<rect x="973.0" y="262.0" width="2.5" height="1094.0" fill="#171717" />
<polygon points="811.0,222.0 847.0,222.0 849.4,1387.5 812.8,1387.5" fill="url(#barLG)" />
<line x1="847.3" y1="222.0" x2="849.0" y2="1386.0" stroke="#4f4f4f" stroke-width="1.00" />
<rect x="812.5" y="242.0" width="16.0" height="12.0" fill="none" stroke="#5a5a5a" stroke-width="0.8"/>
<rect x="831.0" y="242.0" width="16.0" height="12.0" fill="none" stroke="#5a5a5a" stroke-width="0.8"/>
<rect x="812.5" y="778.0" width="16.0" height="12.0" fill="none" stroke="#5a5a5a" stroke-width="0.8"/>
<rect x="831.0" y="778.0" width="16.0" height="12.0" fill="none" stroke="#5a5a5a" stroke-width="0.8"/>
<rect x="812.5" y="829.5" width="16.0" height="12.0" fill="none" stroke="#5a5a5a" stroke-width="0.8"/>
<rect x="831.0" y="829.5" width="16.0" height="12.0" fill="none" stroke="#5a5a5a" stroke-width="0.8"/>
<rect x="812.5" y="1357.0" width="16.0" height="12.0" fill="none" stroke="#5a5a5a" stroke-width="0.8"/>
<rect x="831.0" y="1357.0" width="16.0" height="12.0" fill="none" stroke="#5a5a5a" stroke-width="0.8"/>
<rect x="811.0" y="211.0" width="36.0" height="11.0" fill="#161616" />
<rect x="826.0" y="217.0" width="20.0" height="5.0" fill="#777" />
<polygon points="1075.0,232.0 1088.8,233.0 1088.8,1400.5 1075.0,1395.0" fill="url(#railR)" />
<rect x="1088.8" y="233.0" width="16.3" height="1112.0" fill="#212121" />
<path d="M1094,239.5 L1101.5,239.5 L1104.5,242.5 L1104.5,257.0 L1101.5,260.0 L1094,260.0 L1091.3,257.0 L1091.3,242.5 Z" fill="#2f2f2f" stroke="#161616" stroke-width="0.8"/>
<path d="M1094,263.9 L1101.5,263.9 L1104.5,266.9 L1104.5,281.4 L1101.5,284.4 L1094,284.4 L1091.3,281.4 L1091.3,266.9 Z" fill="#111111" stroke="#161616" stroke-width="0.8"/>
<path d="M1094,288.2 L1101.5,288.2 L1104.5,291.2 L1104.5,305.7 L1101.5,308.7 L1094,308.7 L1091.3,305.7 L1091.3,291.2 Z" fill="#111111" stroke="#161616" stroke-width="0.8"/>
<path d="M1094,312.6 L1101.5,312.6 L1104.5,315.6 L1104.5,330.1 L1101.5,333.1 L1094,333.1 L1091.3,330.1 L1091.3,315.6 Z" fill="#111111" stroke="#161616" stroke-width="0.8"/>
<path d="M1094,336.9 L1101.5,336.9 L1104.5,339.9 L1104.5,354.4 L1101.5,357.4 L1094,357.4 L1091.3,354.4 L1091.3,339.9 Z" fill="#111111" stroke="#161616" stroke-width="0.8"/>
<path d="M1094,361.2 L1101.5,361.2 L1104.5,364.2 L1104.5,378.8 L1101.5,381.8 L1094,381.8 L1091.3,378.8 L1091.3,364.2 Z" fill="#111111" stroke="#161616" stroke-width="0.8"/>
<path d="M1094,385.6 L1101.5,385.6 L1104.5,388.6 L1104.5,403.1 L1101.5,406.1 L1094,406.1 L1091.3,403.1 L1091.3,388.6 Z" fill="#111111" stroke="#161616" stroke-width="0.8"/>
<path d="M1094,410.0 L1101.5,410.0 L1104.5,413.0 L1104.5,427.5 L1101.5,430.5 L1094,430.5 L1091.3,427.5 L1091.3,413.0 Z" fill="#111111" stroke="#161616" stroke-width="0.8"/>
<path d="M1094,434.3 L1101.5,434.3 L1104.5,437.3 L1104.5,451.8 L1101.5,454.8 L1094,454.8 L1091.3,451.8 L1091.3,437.3 Z" fill="#2f2f2f" stroke="#161616" stroke-width="0.8"/>
<path d="M1094,458.6 L1101.5,458.6 L1104.5,461.6 L1104.5,476.1 L1101.5,479.1 L1094,479.1 L1091.3,476.1 L1091.3,461.6 Z" fill="#2f2f2f" stroke="#161616" stroke-width="0.8"/>
<path d="M1094,483.0 L1101.5,483.0 L1104.5,486.0 L1104.5,500.5 L1101.5,503.5 L1094,503.5 L1091.3,500.5 L1091.3,486.0 Z" fill="#2f2f2f" stroke="#161616" stroke-width="0.8"/>
<path d="M1094,507.4 L1101.5,507.4 L1104.5,510.4 L1104.5,524.9 L1101.5,527.9 L1094,527.9 L1091.3,524.9 L1091.3,510.4 Z" fill="#2f2f2f" stroke="#161616" stroke-width="0.8"/>
<path d="M1094,531.7 L1101.5,531.7 L1104.5,534.7 L1104.5,549.2 L1101.5,552.2 L1094,552.2 L1091.3,549.2 L1091.3,534.7 Z" fill="#2f2f2f" stroke="#161616" stroke-width="0.8"/>
<path d="M1094,556.0 L1101.5,556.0 L1104.5,559.0 L1104.5,573.5 L1101.5,576.5 L1094,576.5 L1091.3,573.5 L1091.3,559.0 Z" fill="#111111" stroke="#161616" stroke-width="0.8"/>
<path d="M1094,580.4 L1101.5,580.4 L1104.5,583.4 L1104.5,597.9 L1101.5,600.9 L1094,600.9 L1091.3,597.9 L1091.3,583.4 Z" fill="#111111" stroke="#161616" stroke-width="0.8"/>
<path d="M1094,604.8 L1101.5,604.8 L1104.5,607.8 L1104.5,622.2 L1101.5,625.2 L1094,625.2 L1091.3,622.2 L1091.3,607.8 Z" fill="#2f2f2f" stroke="#161616" stroke-width="0.8"/>
<path d="M1094,629.1 L1101.5,629.1 L1104.5,632.1 L1104.5,646.6 L1101.5,649.6 L1094,649.6 L1091.3,646.6 L1091.3,632.1 Z" fill="#2f2f2f" stroke="#161616" stroke-width="0.8"/>
<path d="M1094,653.5 L1101.5,653.5 L1104.5,656.5 L1104.5,671.0 L1101.5,674.0 L1094,674.0 L1091.3,671.0 L1091.3,656.5 Z" fill="#2f2f2f" stroke="#161616" stroke-width="0.8"/>
<path d="M1094,677.8 L1101.5,677.8 L1104.5,680.8 L1104.5,695.3 L1101.5,698.3 L1094,698.3 L1091.3,695.3 L1091.3,680.8 Z" fill="#2f2f2f" stroke="#161616" stroke-width="0.8"/>
<path d="M1094,702.2 L1101.5,702.2 L1104.5,705.2 L1104.5,719.7 L1101.5,722.7 L1094,722.7 L1091.3,719.7 L1091.3,705.2 Z" fill="#111111" stroke="#161616" stroke-width="0.8"/>
<path d="M1094,726.5 L1101.5,726.5 L1104.5,729.5 L1104.5,744.0 L1101.5,747.0 L1094,747.0 L1091.3,744.0 L1091.3,729.5 Z" fill="#111111" stroke="#161616" stroke-width="0.8"/>
<path d="M1094,750.9 L1101.5,750.9 L1104.5,753.9 L1104.5,768.4 L1101.5,771.4 L1094,771.4 L1091.3,768.4 L1091.3,753.9 Z" fill="#111111" stroke="#161616" stroke-width="0.8"/>
<path d="M1094,775.2 L1101.5,775.2 L1104.5,778.2 L1104.5,792.7 L1101.5,795.7 L1094,795.7 L1091.3,792.7 L1091.3,778.2 Z" fill="#2f2f2f" stroke="#161616" stroke-width="0.8"/>
<path d="M1094,799.6 L1101.5,799.6 L1104.5,802.6 L1104.5,817.1 L1101.5,820.1 L1094,820.1 L1091.3,817.1 L1091.3,802.6 Z" fill="#2f2f2f" stroke="#161616" stroke-width="0.8"/>
<path d="M1094,823.9 L1101.5,823.9 L1104.5,826.9 L1104.5,841.4 L1101.5,844.4 L1094,844.4 L1091.3,841.4 L1091.3,826.9 Z" fill="#2f2f2f" stroke="#161616" stroke-width="0.8"/>
<path d="M1094,848.2 L1101.5,848.2 L1104.5,851.2 L1104.5,865.8 L1101.5,868.8 L1094,868.8 L1091.3,865.8 L1091.3,851.2 Z" fill="#111111" stroke="#161616" stroke-width="0.8"/>
<path d="M1094,872.6 L1101.5,872.6 L1104.5,875.6 L1104.5,890.1 L1101.5,893.1 L1094,893.1 L1091.3,890.1 L1091.3,875.6 Z" fill="#111111" stroke="#161616" stroke-width="0.8"/>
<path d="M1094,897.0 L1101.5,897.0 L1104.5,900.0 L1104.5,914.5 L1101.5,917.5 L1094,917.5 L1091.3,914.5 L1091.3,900.0 Z" fill="#2f2f2f" stroke="#161616" stroke-width="0.8"/>
<path d="M1094,921.3 L1101.5,921.3 L1104.5,924.3 L1104.5,938.8 L1101.5,941.8 L1094,941.8 L1091.3,938.8 L1091.3,924.3 Z" fill="#2f2f2f" stroke="#161616" stroke-width="0.8"/>
<path d="M1094,945.7 L1101.5,945.7 L1104.5,948.7 L1104.5,963.2 L1101.5,966.2 L1094,966.2 L1091.3,963.2 L1091.3,948.7 Z" fill="#2f2f2f" stroke="#161616" stroke-width="0.8"/>
<path d="M1094,970.0 L1101.5,970.0 L1104.5,973.0 L1104.5,987.5 L1101.5,990.5 L1094,990.5 L1091.3,987.5 L1091.3,973.0 Z" fill="#111111" stroke="#161616" stroke-width="0.8"/>
<path d="M1094,994.4 L1101.5,994.4 L1104.5,997.4 L1104.5,1011.9 L1101.5,1014.9 L1094,1014.9 L1091.3,1011.9 L1091.3,997.4 Z" fill="#111111" stroke="#161616" stroke-width="0.8"/>
<path d="M1094,1018.7 L1101.5,1018.7 L1104.5,1021.7 L1104.5,1036.2 L1101.5,1039.2 L1094,1039.2 L1091.3,1036.2 L1091.3,1021.7 Z" fill="#111111" stroke="#161616" stroke-width="0.8"/>
<path d="M1094,1043.1 L1101.5,1043.1 L1104.5,1046.1 L1104.5,1060.6 L1101.5,1063.6 L1094,1063.6 L1091.3,1060.6 L1091.3,1046.1 Z" fill="#2f2f2f" stroke="#161616" stroke-width="0.8"/>
<path d="M1094,1067.4 L1101.5,1067.4 L1104.5,1070.4 L1104.5,1084.9 L1101.5,1087.9 L1094,1087.9 L1091.3,1084.9 L1091.3,1070.4 Z" fill="#2f2f2f" stroke="#161616" stroke-width="0.8"/>
<path d="M1094,1091.8 L1101.5,1091.8 L1104.5,1094.8 L1104.5,1109.2 L1101.5,1112.2 L1094,1112.2 L1091.3,1109.2 L1091.3,1094.8 Z" fill="#2f2f2f" stroke="#161616" stroke-width="0.8"/>
<path d="M1094,1116.1 L1101.5,1116.1 L1104.5,1119.1 L1104.5,1133.6 L1101.5,1136.6 L1094,1136.6 L1091.3,1133.6 L1091.3,1119.1 Z" fill="#111111" stroke="#161616" stroke-width="0.8"/>
<path d="M1094,1140.5 L1101.5,1140.5 L1104.5,1143.5 L1104.5,1158.0 L1101.5,1161.0 L1094,1161.0 L1091.3,1158.0 L1091.3,1143.5 Z" fill="#111111" stroke="#161616" stroke-width="0.8"/>
<path d="M1094,1164.8 L1101.5,1164.8 L1104.5,1167.8 L1104.5,1182.3 L1101.5,1185.3 L1094,1185.3 L1091.3,1182.3 L1091.3,1167.8 Z" fill="#111111" stroke="#161616" stroke-width="0.8"/>
<path d="M1094,1189.2 L1101.5,1189.2 L1104.5,1192.2 L1104.5,1206.7 L1101.5,1209.7 L1094,1209.7 L1091.3,1206.7 L1091.3,1192.2 Z" fill="#111111" stroke="#161616" stroke-width="0.8"/>
<path d="M1094,1213.5 L1101.5,1213.5 L1104.5,1216.5 L1104.5,1231.0 L1101.5,1234.0 L1094,1234.0 L1091.3,1231.0 L1091.3,1216.5 Z" fill="#2f2f2f" stroke="#161616" stroke-width="0.8"/>
<path d="M1094,1237.8 L1101.5,1237.8 L1104.5,1240.8 L1104.5,1255.3 L1101.5,1258.3 L1094,1258.3 L1091.3,1255.3 L1091.3,1240.8 Z" fill="#2f2f2f" stroke="#161616" stroke-width="0.8"/>
<path d="M1094,1262.2 L1101.5,1262.2 L1104.5,1265.2 L1104.5,1279.7 L1101.5,1282.7 L1094,1282.7 L1091.3,1279.7 L1091.3,1265.2 Z" fill="#111111" stroke="#161616" stroke-width="0.8"/>
<path d="M1094,1286.5 L1101.5,1286.5 L1104.5,1289.5 L1104.5,1304.0 L1101.5,1307.0 L1094,1307.0 L1091.3,1304.0 L1091.3,1289.5 Z" fill="#111111" stroke="#161616" stroke-width="0.8"/>
<path d="M1094,1310.9 L1101.5,1310.9 L1104.5,1313.9 L1104.5,1328.4 L1101.5,1331.4 L1094,1331.4 L1091.3,1328.4 L1091.3,1313.9 Z" fill="#111111" stroke="#161616" stroke-width="0.8"/>
<polygon points="1105.0,236.0 1140.0,237.5 1139.6,1367.5 1105.0,1367.5" fill="url(#barRG)" />
<line x1="1105.5" y1="236.0" x2="1105.5" y2="1368.0" stroke="#4a4a4a" stroke-width="1.00" />
<rect x="1106.0" y="253.0" width="16.0" height="11.0" fill="none" stroke="#4a4a4a" stroke-width="0.8"/>
<rect x="1124.0" y="253.0" width="15.0" height="11.0" fill="none" stroke="#4a4a4a" stroke-width="0.8"/>
<rect x="1106.0" y="778.0" width="16.0" height="11.0" fill="none" stroke="#4a4a4a" stroke-width="0.8"/>
<rect x="1124.0" y="778.0" width="15.0" height="11.0" fill="none" stroke="#4a4a4a" stroke-width="0.8"/>
<rect x="1106.0" y="829.5" width="16.0" height="11.0" fill="none" stroke="#4a4a4a" stroke-width="0.8"/>
<rect x="1124.0" y="829.5" width="15.0" height="11.0" fill="none" stroke="#4a4a4a" stroke-width="0.8"/>
<rect x="1106.0" y="1337.0" width="16.0" height="11.0" fill="none" stroke="#4a4a4a" stroke-width="0.8"/>
<rect x="1124.0" y="1337.0" width="15.0" height="11.0" fill="none" stroke="#4a4a4a" stroke-width="0.8"/>
<rect x="1140.0" y="227.0" width="10.0" height="1185.0" fill="#1a1a1a" />
<polygon points="1088.8,1345.0 1105.0,1345.0 1105.0,1368.0 1150.0,1368.0 1150.0,1412.0 1090.0,1408.0 1088.8,1400.0" fill="#232323" />
<polygon points="1150.0,226.3 1157.5,227.0 1156.0,1412.0 1149.0,1412.0" fill="#595959" />
<rect x="814.0" y="1388.0" width="31.0" height="32.0" fill="#262626" />
<rect x="830.0" y="1388.0" width="8.0" height="32.0" fill="#444" />
<rect x="838.2" y="1389.4" width="5.0" height="4.6" fill="#fff" />
<rect x="838.2" y="1396.2" width="5.0" height="4.4" fill="#fff" />
<rect x="838.2" y="1404.4" width="5.0" height="5.0" fill="#fff" />
<rect x="838.2" y="1413.0" width="5.0" height="5.2" fill="#fff" />
<rect x="828.0" y="1390.6" width="3.0" height="8.2" fill="#fff" />
<rect x="822.0" y="1402.0" width="2.0" height="4.0" fill="#ccc" />
<rect x="814.0" y="1388.0" width="8.0" height="24.0" fill="#3a3a3a" />
<polygon points="887.0,1344.0 930.0,1344.0 930.5,1350.0 939.0,1350.5 935.0,1357.0 887.0,1355.0" fill="#1a1a1a" />
<circle cx="891.0" cy="1348.5" r="1.80" fill="#333" />
<rect x="930.5" y="1347.0" width="8.5" height="3.0" fill="#fff" />
<path d="M889.5,1354.5 L915,1354.5 L914.5,1361 Q912,1367.5 905,1367.5 L898,1367.5 Q892,1367 890.5,1359 Z" fill="#343434"/>
<circle cx="889.5" cy="1357.0" r="2.20" fill="#d0d0d0" />
<circle cx="851.0" cy="1350.5" r="2.00" fill="#fff" />
<ellipse cx="928.5" cy="1357" rx="6" ry="2.2" fill="#2a2a2a"/>
<polygon points="785.5,1444.0 794.0,1447.0 794.0,1466.5 785.5,1462.5" fill="#3c3c3c" />
<polygon points="788.0,1444.0 812.5,1436.0 814.4,1440.0 912.5,1432.5 1069.4,1421.0 1149.0,1414.5 1156.5,1413.0 1179.4,1417.0 1179.4,1436.0 1069.4,1444.5 912.5,1458.8 793.8,1466.5 791.0,1462.0" fill="#4a4a4a" />
<polygon points="788.0,1444.0 814.4,1440.0 912.5,1432.5 1069.4,1420.0 1156.0,1412.5 1156.0,1416.0 1069.4,1424.0 912.5,1438.8 814.4,1446.5 790.0,1447.5" fill="#1e1e1e" />
<polygon points="814.4,1434.4 980.0,1422.5 1087.0,1412.8 1149.0,1409.4 1149.0,1414.0 1087.0,1418.0 980.0,1429.4 814.4,1440.5" fill="#474747" />
<polygon points="814.4,1429.4 980.0,1417.0 1087.0,1407.4 1149.0,1404.0 1149.0,1409.6 1087.0,1413.0 980.0,1422.7 814.4,1434.6" fill="#101010" />
<polygon points="913.0,1438.8 1031.5,1429.5 1033.0,1428.0 1068.0,1425.5 1068.0,1463.8 1075.0,1467.0 920.0,1480.5 913.0,1476.0" fill="#3f3f3f" />
<polygon points="913.0,1474.5 1068.0,1462.3 1075.0,1467.0 920.0,1480.5" fill="#262626" />
<line x1="1032.3" y1="1428.5" x2="1032.3" y2="1447.0" stroke="#242424" stroke-width="1.00" />
<polygon points="950.0,1454.8 1032.2,1448.6 1032.2,1456.4 950.0,1462.6" fill="#fff" />
<circle cx="924.6" cy="1450.0" r="3.60" fill="#cdcdcd" />
<circle cx="1058.4" cy="1440.4" r="3.60" fill="#cdcdcd" />
<circle cx="1069.0" cy="1439.7" r="1.70" fill="#fff" />
<rect x="909.5" y="1451.5" width="3.5" height="4.5" fill="#151515" />
<rect x="795.9" y="1466.0" width="5.2" height="15.0" fill="#2c2c2c" />
<rect x="791.2" y="1479.5" width="14.6" height="7.5" rx="2.8" fill="#2b2b2b"/>
<rect x="1167.4" y="1436.0" width="5.2" height="12.5" fill="#2c2c2c" />
<rect x="1163.2" y="1447.0" width="13.6" height="7.5" rx="2.8" fill="#2b2b2b"/>
<rect x="592.4" y="1366.0" width="5.2" height="10.0" fill="#2c2c2c" />
<rect x="589.0" y="1374.5" width="12.0" height="7.5" rx="2.8" fill="#2b2b2b"/>
<path d="M817.5,1465 L846,1465 L845,1472 Q842,1476.5 836,1476.5 L826,1476.5 Q820,1476 817.5,1468 Z" fill="#3a3a3a"/>
<path d="M1096,1441 L1124,1439.5 L1123.5,1447 Q1121,1452 1115,1452 L1104,1452 Q1098,1451 1096,1444 Z" fill="#343434"/>
<circle cx="818.5" cy="1466.0" r="1.50" fill="#bbb" />
<circle cx="1097.5" cy="1443.5" r="1.50" fill="#bbb" />
<polygon points="1157.5,209.0 1475.0,174.5 1470.5,1467.5 1156.0,1413.5" fill="#2c2c2c" />
<polygon points="1475.0,174.5 1485.0,174.0 1480.0,1468.0 1470.5,1467.5" fill="#424242" />
<line x1="1475.2" y1="175.0" x2="1470.8" y2="1467.0" stroke="#3a3a3a" stroke-width="1.00" />
<polygon points="1157.5,209.0 1475.0,174.5 1475.0,190.0 1447.5,190.0 1201.0,216.0 1157.5,217.5" fill="#262626" />
<polygon points="1201.0,212.0 1415.0,187.5 1416.0,190.5 1201.0,216.5" fill="#141414" />
<polygon points="1156.0,1402.5 1200.0,1405.0 1444.0,1447.5 1470.5,1447.5 1470.5,1467.5 1156.0,1413.5" fill="#262626" />
<polygon points="1209.0,1407.0 1415.0,1443.0 1412.0,1447.0 1209.0,1411.0" fill="#141414" />
<polygon points="1157.5,217.0 1182.5,216.5 1182.0,1404.0 1156.5,1402.5" fill="#1d1d1d" />
<line x1="1182.3" y1="217.0" x2="1182.0" y2="1404.0" stroke="#3a3a3a" stroke-width="1.00" />
<polygon points="1182.8,216.5 1201.0,216.0 1200.0,1405.0 1182.3,1404.0" fill="#2a2a2a" />
<polygon points="1192.0,216.3 1201.5,215.3 1200.5,1405.0 1191.5,1404.5" fill="#222" />
<polygon points="1201.5,215.3 1447.5,190.0 1444.0,1447.5 1200.5,1405.0" fill="url(#mDoor)" />
<polygon points="1292.5,222.5 1359.0,214.5 1359.0,241.0 1292.5,250.0" fill="#262626" opacity="0.85"/>
<rect x="1185" y="220.0" width="4" height="33.0" rx="2" fill="#0c0c0c"/>
<rect x="1185" y="375.0" width="4" height="33.0" rx="2" fill="#0c0c0c"/>
<rect x="1185" y="514.0" width="4" height="33.0" rx="2" fill="#0c0c0c"/>
<rect x="1185" y="727.0" width="4" height="35.0" rx="2" fill="#0c0c0c"/>
<rect x="1185" y="868.0" width="4" height="31.0" rx="2" fill="#0c0c0c"/>
<rect x="1185" y="1080.0" width="4" height="32.0" rx="2" fill="#0c0c0c"/>
<rect x="1185" y="1217.0" width="4" height="32.0" rx="2" fill="#0c0c0c"/>
<rect x="1185" y="1368.0" width="4" height="31.0" rx="2" fill="#0c0c0c"/>
<rect x="1161.5" y="238.0" width="8" height="42.0" rx="4" fill="#151515" stroke="#303030" stroke-width="0.8"/>
<rect x="1161.5" y="500.0" width="8" height="70.0" rx="4" fill="#151515" stroke="#303030" stroke-width="0.8"/>
<rect x="1161.5" y="641.0" width="8" height="68.0" rx="4" fill="#151515" stroke="#303030" stroke-width="0.8"/>
<rect x="1161.5" y="781.0" width="8" height="66.0" rx="4" fill="#151515" stroke="#303030" stroke-width="0.8"/>
<rect x="1161.5" y="920.0" width="8" height="65.0" rx="4" fill="#151515" stroke="#303030" stroke-width="0.8"/>
<rect x="1161.5" y="1057.0" width="8" height="66.0" rx="4" fill="#151515" stroke="#303030" stroke-width="0.8"/>
<rect x="1161.5" y="1340.0" width="8" height="42.0" rx="4" fill="#151515" stroke="#303030" stroke-width="0.8"/>
<rect x="1463.5" y="232.0" width="6.5" height="69.0" rx="3.2" fill="#0b0b0b"/>
<rect x="1463.1" y="390.0" width="6.5" height="68.0" rx="3.2" fill="#0b0b0b"/>
<rect x="1462.6" y="547.0" width="6.5" height="67.0" rx="3.2" fill="#0b0b0b"/>
<rect x="1461.3" y="1034.0" width="6.5" height="66.0" rx="3.2" fill="#0b0b0b"/>
<rect x="1460.9" y="1189.0" width="6.5" height="65.0" rx="3.2" fill="#0b0b0b"/>
<rect x="1460.5" y="1342.0" width="6.5" height="65.0" rx="3.2" fill="#0b0b0b"/>
<rect x="1466.5" y="676.0" width="3.0" height="3.5" fill="#0b0b0b" />
<rect x="1466.5" y="969.5" width="3.0" height="3.5" fill="#0b0b0b" />
<rect x="1469.0" y="194.0" width="3.0" height="3.5" fill="#0b0b0b" />
<rect x="1466.0" y="1442.0" width="3.0" height="3.5" fill="#0b0b0b" />
<rect x="1155.0" y="315.0" width="6.0" height="52.0" fill="#3a3a3a" />
<rect x="1157.0" y="318.0" width="3.0" height="46.0" fill="#1a1a1a" />
<rect x="1163.5" y="327.0" width="9.5" height="26.0" fill="#6c6c6c" />
<rect x="1161.0" y="325.0" width="3.0" height="30.0" fill="#2a2a2a" />
<rect x="1155.0" y="1257.5" width="6.0" height="52.0" fill="#3a3a3a" />
<rect x="1157.0" y="1260.5" width="3.0" height="46.0" fill="#1a1a1a" />
<rect x="1163.5" y="1269.5" width="9.5" height="26.0" fill="#6c6c6c" />
<rect x="1161.0" y="1267.5" width="3.0" height="30.0" fill="#2a2a2a" />
<rect x="1452.0" y="772.0" width="20.0" height="104.0" fill="#141414" />
<rect x="1457.0" y="772.0" width="14.5" height="8.5" fill="#6d6d6d" />
<rect x="1454.0" y="772.0" width="3.0" height="9.0" fill="#111" />
<rect x="1466.0" y="780.5" width="6.0" height="17.0" fill="#0c0c0c" />
<rect x="1449.0" y="780.5" width="17.0" height="17.0" fill="#cfcfcf" />
<circle cx="1457.5" cy="787.5" r="4.20" fill="#e6e6e6" />
<rect x="1441.5" y="791.0" width="16.5" height="2.6" fill="#ececec" />
<rect x="1453.0" y="798.0" width="18.5" height="52.0" fill="#d2d2d2" />
<circle cx="1460.0" cy="803.0" r="3.00" fill="#e4e4e4" stroke="#aaa" stroke-width="0.8"/>
<circle cx="1462.0" cy="823.0" r="1.60" fill="#111" />
<circle cx="1465.0" cy="833.0" r="2.00" fill="#e6e6e6" />
<circle cx="1461.0" cy="845.0" r="3.50" fill="#e6e6e6" stroke="#b5b5b5" stroke-width="0.8"/>
<path d="M1449.5,851 H1471.5 V866 Q1466,871 1460,871 Q1452,871 1449.5,862 Z" fill="#2e2e2e"/>
<rect x="1456.0" y="871.0" width="15.5" height="5.0" fill="#555" />
<g clip-path="url(#c1)">
<rect x="30.0" y="180.0" width="470.0" height="470.0" fill="#fff" />
<polygon points="342.0,200.0 500.0,200.0 500.0,640.0 342.0,640.0" fill="url(#mC1d)" />
<polygon points="401.0,269.0 500.0,269.0 500.0,640.0 401.0,640.0" fill="url(#mC1)" />
<polygon points="343.0,206.5 387.0,228.0 387.0,640.0 343.0,640.0" fill="#707070" />
<polygon points="381.0,225.0 387.0,228.0 387.0,640.0 381.0,640.0" fill="#686868" />
<polygon points="238.0,252.0 338.5,209.4 343.0,208.0 343.0,640.0 333.0,640.0 335.5,265.2 240.0,293.0" fill="#6d6d6d" />
<polygon points="238.0,252.0 240.0,293.0 250.5,290.0 250.5,640.0 238.0,640.0" fill="#565656" />
<polygon points="249.0,290.5 335.5,265.2 335.5,640.0 249.0,640.0" fill="#262626" />
<polygon points="257.0,289.0 272.0,284.5 272.0,640.0 257.0,640.0" fill="#1a1a1a" />
<polygon points="258.0,292.0 268.0,289.5 268.0,640.0 258.0,640.0" fill="#474747" />
<line x1="262.5" y1="300.0" x2="262.5" y2="560.0" stroke="#777" stroke-width="1.50" stroke-dasharray="2 5"/>
<polygon points="269.0,287.5 274.0,286.0 274.0,640.0 269.0,640.0" fill="#585858" />
<polygon points="274.0,284.5 307.6,275.0 307.6,640.0 274.0,640.0" fill="#383838" />
<line x1="274.0" y1="443.0" x2="307.6" y2="443.0" stroke="#222" stroke-width="1.20" />
<rect x="285.6" y="358.0" width="17.6" height="61.4" rx="2.5" fill="url(#mC1)"/>
<rect x="285.6" y="475.0" width="17.6" height="62.0" rx="2.5" fill="url(#mC1)"/>
<rect x="285.6" y="591.0" width="17.6" height="49.0" rx="2.5" fill="url(#mC1)"/>
<line x1="277.5" y1="290.0" x2="277.5" y2="640.0" stroke="#9a9a9a" stroke-width="1.30" stroke-dasharray="1.3 5.2"/>
<polygon points="309.0,274.5 316.4,272.5 316.4,640.0 309.0,640.0" fill="#2b2b2b" />
<line x1="312.7" y1="278.0" x2="312.7" y2="640.0" stroke="#c4c4c4" stroke-width="3.00" stroke-dasharray="2.4 2.9"/>
<polygon points="316.4,272.5 332.6,268.0 332.6,640.0 316.4,640.0" fill="url(#mC1)" />
<polygon points="332.6,266.0 336.0,265.0 343.0,263.0 343.0,640.0 332.6,640.0" fill="#171717" />
<polygon points="336.5,208.5 340.5,208.0 340.5,640.0 338.0,640.0" fill="#2a2a2a" />
<polygon points="95.2,318.0 158.7,291.0 166.6,289.3 286.5,623.0 292.5,640.0 214.0,640.0" fill="#7e7e7e" />
<polygon points="158.7,291.0 166.6,289.3 292.5,640.0 284.5,640.0" fill="#898989" />
<line x1="158.7" y1="291.0" x2="284.5" y2="640.0" stroke="#5f5f5f" stroke-width="0.90" />
<line x1="125.0" y1="312.0" x2="135.0" y2="342.0" stroke="#3a3a3a" stroke-width="1.60" />
<circle cx="128.5" cy="301.0" r="0.90" fill="#444" />
</g>
<circle cx="262" cy="408.7" r="219.5" fill="none" stroke="#e27a26" stroke-width="5.4"/>
<line x1="480.0" y1="503.3" x2="661.0" y2="503.3" stroke="#e27a26" stroke-width="3.00" />
<circle cx="661.3" cy="503.2" r="10.80" fill="#e27a26" />
<g clip-path="url(#c2)">
<rect x="30.0" y="950.0" width="470.0" height="470.0" fill="#555656" />
<polygon points="30.0,950.0 168.0,950.0 168.0,1044.6 88.8,1051.4 30.0,1056.0" fill="#5d5e5e" />
<line x1="60.0" y1="1054.0" x2="168.0" y2="1044.6" stroke="#3e3e3e" stroke-width="1.00" />
<rect x="168.0" y="950.0" width="7.4" height="470.0" fill="#242424" />
<rect x="175.4" y="950.0" width="22.0" height="470.0" fill="#484848" />
<rect x="181.0" y="981.0" width="8.0" height="8.0" fill="#0f0f0f" />
<rect x="181.0" y="1029.7" width="8.0" height="8.0" fill="#626262" />
<rect x="181.0" y="1029.7" width="2.0" height="8.0" fill="#222" />
<rect x="181.0" y="1079.7" width="8.0" height="8.0" fill="#626262" />
<rect x="181.0" y="1079.7" width="2.0" height="8.0" fill="#222" />
<rect x="181.0" y="1129.6" width="8.0" height="8.0" fill="#626262" />
<rect x="181.0" y="1129.6" width="2.0" height="8.0" fill="#222" />
<rect x="181.0" y="1181.0" width="8.0" height="8.0" fill="#0f0f0f" />
<rect x="181.0" y="1231.0" width="8.0" height="8.0" fill="#0f0f0f" />
<rect x="181.0" y="1282.4" width="8.0" height="8.0" fill="#0f0f0f" />
<rect x="181.0" y="1332.3" width="8.0" height="8.0" fill="#626262" />
<rect x="181.0" y="1332.3" width="2.0" height="8.0" fill="#222" />
<rect x="181.0" y="1380.8" width="8.0" height="8.0" fill="#626262" />
<rect x="181.0" y="1380.8" width="2.0" height="8.0" fill="#222" />
<rect x="197.4" y="950.0" width="16.2" height="470.0" fill="#181818" />
<line x1="202.0" y1="950.0" x2="202.0" y2="1420.0" stroke="#484848" stroke-width="3.20" stroke-dasharray="6 4 3 4"/>
<rect x="213.6" y="950.0" width="76.4" height="470.0" fill="#3f3f3f" />
<rect x="279.5" y="950.0" width="10.5" height="470.0" fill="#131313" />
<path d="M223.6,948.5 L246,948.5 L271,950.0 L279,955.5 L279,985.9 L271,992.9 L223.6,992.9 L217,984.9 L217,956.5 Z" fill="#101010"/>
<rect x="281.0" y="917.0" width="7.5" height="43.0" fill="#4c4c4c" />
<rect x="279.5" y="943.0" width="2.0" height="4.5" fill="#444" />
<path d="M223.6,999.9 L246,999.9 L271,1001.4 L279,1006.9 L279,1037.3 L271,1044.3 L223.6,1044.3 L217,1036.3 L217,1007.9 Z" fill="#101010"/>
<rect x="281.0" y="968.4" width="7.5" height="43.0" fill="#4c4c4c" />
<rect x="279.5" y="994.4" width="2.0" height="4.5" fill="#444" />
<path d="M223.6,1051.3 L246,1051.3 L271,1052.8 L279,1058.3 L279,1088.7 L271,1095.7 L223.6,1095.7 L217,1087.7 L217,1059.3 Z" fill="#101010"/>
<rect x="281.0" y="1019.8" width="7.5" height="43.0" fill="#4c4c4c" />
<rect x="279.5" y="1045.8" width="2.0" height="4.5" fill="#444" />
<path d="M223.6,1102.7 L246,1102.7 L271,1104.2 L279,1109.7 L279,1140.1 L271,1147.1 L223.6,1147.1 L217,1139.1 L217,1110.7 Z" fill="#101010"/>
<rect x="281.0" y="1071.2" width="7.5" height="43.0" fill="#4c4c4c" />
<rect x="279.5" y="1097.2" width="2.0" height="4.5" fill="#444" />
<path d="M223.6,1154.1 L246,1154.1 L271,1155.6 L279,1161.1 L279,1191.5 L271,1198.5 L223.6,1198.5 L217,1190.5 L217,1162.1 Z" fill="#101010"/>
<rect x="281.0" y="1122.6" width="7.5" height="43.0" fill="#4c4c4c" />
<rect x="279.5" y="1148.6" width="2.0" height="4.5" fill="#444" />
<path d="M223.6,1205.5 L246,1205.5 L271,1207.0 L279,1212.5 L279,1242.9 L271,1249.9 L223.6,1249.9 L217,1241.9 L217,1213.5 Z" fill="#101010"/>
<rect x="281.0" y="1174.0" width="7.5" height="43.0" fill="#4c4c4c" />
<rect x="279.5" y="1200.0" width="2.0" height="4.5" fill="#444" />
<path d="M223.6,1256.9 L246,1256.9 L271,1258.4 L279,1263.9 L279,1294.3 L271,1301.3 L223.6,1301.3 L217,1293.3 L217,1264.9 Z" fill="#101010"/>
<rect x="281.0" y="1225.4" width="7.5" height="43.0" fill="#4c4c4c" />
<rect x="279.5" y="1251.4" width="2.0" height="4.5" fill="#444" />
<path d="M223.6,1308.3 L246,1308.3 L271,1309.8 L279,1315.3 L279,1345.7 L271,1352.7 L223.6,1352.7 L217,1344.7 L217,1316.3 Z" fill="#101010"/>
<rect x="281.0" y="1276.8" width="7.5" height="43.0" fill="#4c4c4c" />
<rect x="279.5" y="1302.8" width="2.0" height="4.5" fill="#444" />
<path d="M223.6,1359.7 L246,1359.7 L271,1361.2 L279,1366.7 L279,1397.1 L271,1404.1 L223.6,1404.1 L217,1396.1 L217,1367.7 Z" fill="#101010"/>
<rect x="281.0" y="1328.2" width="7.5" height="43.0" fill="#4c4c4c" />
<rect x="279.5" y="1354.2" width="2.0" height="4.5" fill="#444" />
<path d="M223.6,1411.1 L246,1411.1 L271,1412.6 L279,1418.1 L279,1448.5 L271,1455.5 L223.6,1455.5 L217,1447.5 L217,1419.1 Z" fill="#101010"/>
<rect x="281.0" y="1379.6" width="7.5" height="43.0" fill="#4c4c4c" />
<rect x="279.5" y="1405.6" width="2.0" height="4.5" fill="#444" />
<rect x="290.0" y="950.0" width="42.6" height="470.0" fill="#1b1b1b" />
<rect x="332.6" y="950.0" width="29.4" height="470.0" fill="#2d2d2d" />
<rect x="362.0" y="950.0" width="10.3" height="470.0" fill="#1f1f1f" />
<rect x="365.5" y="950.0" width="2.5" height="470.0" fill="#3c3c3c" />
<rect x="372.3" y="950.0" width="67.5" height="470.0" fill="#565656" />
<rect x="381" y="1064.6" width="23.5" height="138" rx="11.7" fill="#2f2f2f"/>
<rect x="383.5" y="1067.5" width="19.5" height="134" rx="9.7" fill="#3e3e3e"/>
<rect x="381" y="1348" width="23.5" height="138" rx="11.7" fill="#3b3b3b"/>
<rect x="439.8" y="950.0" width="4.4" height="470.0" fill="#2e2e2e" />
<rect x="444.2" y="950.0" width="60.0" height="470.0" fill="#595959" />
<rect x="470.7" y="1126.0" width="20.0" height="113.0" fill="url(#mLeft)" />
</g>
<circle cx="262" cy="1183.8" r="219.5" fill="none" stroke="#e27a26" stroke-width="5.4"/>
<line x1="480.0" y1="1237.3" x2="830.0" y2="1237.3" stroke="#e27a26" stroke-width="3.00" />
<circle cx="830.7" cy="1237.4" r="10.80" fill="#e27a26" />
<text x="80.3" y="686.4" font-family="Liberation Sans, sans-serif" font-size="41.5" fill="#2a526c" textLength="79.6" lengthAdjust="spacingAndGlyphs" stroke="#fff" stroke-width="0.7">Side</text>
<text x="175.3" y="686.4" font-family="Liberation Sans, sans-serif" font-size="41.5" fill="#2a526c" textLength="92.2" lengthAdjust="spacingAndGlyphs" stroke="#fff" stroke-width="0.7">door</text>
<text x="279.0" y="686.4" font-family="Liberation Sans, sans-serif" font-size="41.5" fill="#2a526c" textLength="81.6" lengthAdjust="spacingAndGlyphs" stroke="#fff" stroke-width="0.7">with</text>
<text x="376.2" y="686.4" font-family="Liberation Sans, sans-serif" font-size="41.5" fill="#2a526c" textLength="75.8" lengthAdjust="spacingAndGlyphs" stroke="#fff" stroke-width="0.7">lock</text>
</svg>
</body></html>
